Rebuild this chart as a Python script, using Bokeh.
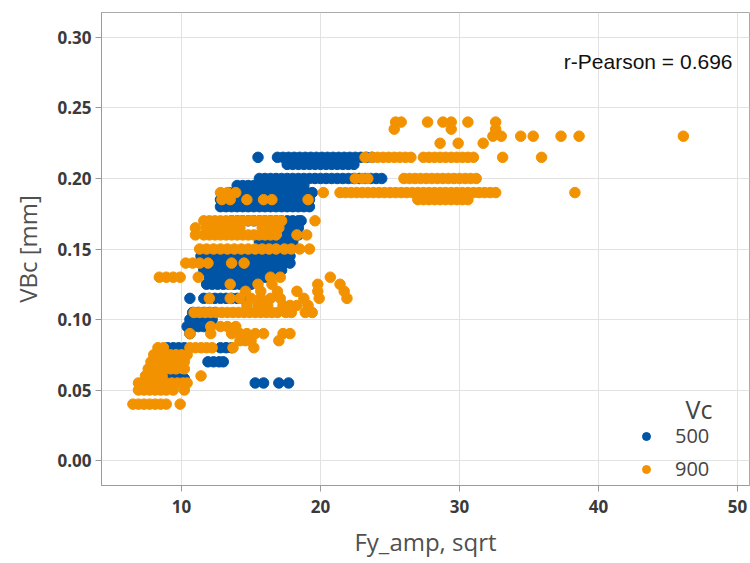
from bokeh.plotting import figure
from bokeh.models import Range1d, FixedTicker, NumeralTickFormatter, Label, Legend, LegendItem
from bokeh.embed import file_html
from bokeh.resources import INLINE

# ---- data: Vc = 500 (rows of points: VBc level, Fy_amp sqrt values) ----
vc500_rows = [
    (0.215, [15.5, 16.9, 17.3, 17.7, 18.1, 18.5, 18.9, 19.3, 19.7, 20.1, 20.5, 20.9, 21.3, 21.7, 22.1, 22.5, 22.9, 23.3, 23.7]),
    (0.21, [17.6, 18.0, 18.4, 18.8, 19.2, 19.6, 20.0, 20.4, 20.8, 21.2, 21.6, 22.0, 22.4]),
    (0.20, [15.6, 16.0, 16.4, 16.8, 17.2, 17.6, 18.0, 18.4, 18.8, 19.2, 19.6, 20.0, 20.4, 20.8, 21.2, 21.6, 22.0, 22.4, 22.8, 23.2, 23.6, 24.0, 24.4]),
    (0.195, [14.0, 14.4, 14.8, 15.2, 15.6, 16.0, 16.4, 16.8, 17.2, 17.6, 18.0, 18.4, 18.8]),
    (0.19, [13.4, 13.8, 14.2, 14.6, 15.0, 15.4, 15.8, 16.2, 16.6, 17.0, 17.4, 17.8, 18.2, 18.6, 19.0, 19.4]),
    (0.185, [12.8, 13.2, 13.6, 14.0, 14.4, 14.8, 15.2, 15.6, 16.0, 16.4, 16.8, 17.2, 17.6, 18.0, 18.4, 18.8, 19.2]),
    (0.18, [12.8, 13.2, 13.6, 14.0, 14.4, 14.8, 15.2, 15.6, 16.0, 16.4, 16.8, 17.2, 17.6, 18.0, 18.4, 18.8, 19.2]),
    (0.17, [13.6, 14.0, 14.4, 14.8, 15.2, 15.6, 16.0, 16.4, 16.8, 17.2, 17.6, 18.0, 18.4, 18.6]),
    (0.165, [17.2, 17.6, 18.0, 18.4]),
    (0.16, [17.6, 18.0, 18.4]),
    (0.155, [15.6, 16.0, 16.4, 16.8, 17.2, 17.6, 18.0]),
    (0.145, [11.4, 11.8, 12.2, 12.6, 13.0, 13.4, 13.8, 14.2, 14.6, 15.0, 15.4, 15.8, 16.2, 16.6, 17.0, 17.4, 17.8]),
    (0.14, [11.4, 11.8, 12.2, 12.6, 13.0, 13.4, 13.8, 14.2, 14.6, 15.0, 15.4, 15.8, 16.2, 16.6, 17.0, 17.4, 17.8]),
    (0.135, [11.6, 12.0, 12.4, 12.8, 13.2, 13.6, 14.0, 14.4, 14.8, 15.2, 15.6, 16.0, 16.4, 16.8, 17.2]),
    (0.13, [12.0, 12.4, 12.8, 13.2, 13.6, 14.0, 14.4, 14.8, 15.2, 15.6, 16.0]),
    (0.125, [11.8, 12.2, 12.6, 13.0, 13.4, 13.8, 14.2, 14.6, 15.0]),
    (0.115, [10.6, 11.6, 12.0, 12.4, 12.8, 13.2, 13.6, 14.0, 14.4]),
    (0.105, [10.8, 11.2, 11.6, 12.0, 12.4]),
    (0.10, [10.6, 11.0, 11.4, 11.8, 12.2]),
    (0.095, [10.4, 10.8, 11.2, 11.6]),
    (0.09, [10.6]),
    (0.08, [9.0, 9.4, 9.8, 10.2, 12.8, 13.2, 13.6]),
    (0.07, [11.9, 12.3, 12.7, 13.0]),
    (0.058, [9.0, 9.4, 9.8, 10.2]),
    (0.055, [15.3, 15.9, 17.0, 17.7]),
]

# ---- data: Vc = 900 ----
vc900_rows = [
    (0.24, [25.4, 25.8, 27.7, 28.8, 29.4, 30.6, 32.6]),
    (0.235, [25.3, 29.4, 32.6]),
    (0.23, [32.4, 33.0, 34.4, 35.3, 37.3, 38.6, 46.1]),
    (0.225, [28.6, 29.9, 31.7]),
    (0.215, [23.2, 23.7, 24.1, 24.5, 24.9, 25.3, 25.7, 26.1, 26.5, 27.4, 27.8, 28.2, 28.6, 29.0, 29.4, 29.8, 30.2, 30.6, 31.0, 33.1, 35.9]),
    (0.20, [22.5, 23.0, 23.4, 26.0, 26.4, 26.8, 27.2, 27.6, 28.0, 28.4, 28.8, 29.2, 29.6, 30.0, 30.4, 30.8, 31.2]),
    (0.19, [12.8, 13.3, 13.9, 20.2, 21.4, 21.8, 22.2, 22.6, 23.0, 23.4, 23.8, 24.2, 24.6, 25.0, 25.4, 25.8, 26.2, 26.6, 27.0, 27.4, 27.8, 28.2, 28.6, 29.0, 29.4, 29.8, 30.2, 30.6, 31.0, 31.4, 31.8, 32.2, 32.6, 38.3]),
    (0.185, [12.9, 13.5, 14.7, 15.9, 16.5, 19.1, 27.0, 27.4, 27.8, 28.2, 28.6, 29.0, 29.4, 29.8, 30.2, 30.6]),
    (0.17, [11.6, 12.0, 12.4, 12.8, 13.2, 13.6, 14.0, 14.4, 14.8, 15.2, 15.6, 16.0, 16.4, 16.8, 17.2, 19.6]),
    (0.165, [11.0, 11.8, 12.2, 12.6, 13.0, 13.4, 13.8, 14.2, 15.8, 16.2, 16.6, 17.0]),
    (0.16, [11.0, 11.6, 12.0, 12.4, 12.8, 13.2, 13.6, 14.0, 14.4, 14.8, 15.2, 15.6, 16.0, 16.4, 16.8, 18.3, 19.0]),
    (0.15, [11.3, 11.8, 12.3, 12.8, 13.3, 13.8, 14.3, 14.8, 15.3, 15.8, 16.3, 16.8, 17.4, 17.9, 18.5, 19.2]),
    (0.14, [10.3, 10.8, 11.3, 11.9, 13.6, 14.5]),
    (0.13, [8.4, 8.9, 9.4, 9.9, 11.2, 16.4, 17.1, 20.7]),
    (0.125, [13.5, 15.5, 16.5, 19.8, 21.4]),
    (0.12, [14.6, 15.7, 16.9, 18.3, 19.8, 21.7]),
    (0.115, [12.0, 13.5, 14.2, 15.0, 15.7, 16.4, 17.1, 18.8, 19.9, 21.9]),
    (0.11, [14.7, 15.5, 16.2, 17.3, 17.8, 18.3, 19.1]),
    (0.105, [10.9, 11.3, 11.7, 12.1, 12.5, 12.9, 13.3, 13.7, 14.1, 14.5, 14.9, 15.3, 15.7, 16.1, 16.5, 16.9, 17.5, 17.9, 18.9, 19.4]),
    (0.095, [12.1, 12.8, 13.3, 13.9]),
    (0.09, [10.6, 12.1, 13.6, 14.2, 14.7, 15.3, 15.9, 17.3, 17.8]),
    (0.085, [14.2, 14.6, 15.0, 17.0]),
    (0.08, [8.3, 8.7, 10.6, 11.0, 11.4, 11.8, 12.2, 13.7, 15.2]),
    (0.075, [8.0, 8.4, 8.8, 9.2, 9.6, 10.0, 10.4]),
    (0.07, [7.8, 8.2, 8.6, 9.0, 9.4, 9.8, 10.2]),
    (0.065, [7.6, 8.0, 8.4, 8.8, 9.2, 9.6, 10.2]),
    (0.06, [7.4, 7.8, 8.2, 8.6, 11.4]),
    (0.055, [6.9, 7.3, 7.7, 8.1, 8.5, 8.9, 9.3, 9.7, 10.1, 10.4]),
    (0.05, [6.9, 7.3, 7.7, 8.1, 8.5, 8.9, 9.4, 10.2]),
    (0.04, [6.5, 6.9, 7.3, 7.7, 8.1, 8.5, 8.9, 9.9]),
]

x_ticks = [10, 20, 30, 40, 50]
y_ticks = [0.00, 0.05, 0.10, 0.15, 0.20, 0.25, 0.30]
series_labels = ["500", "900"]
series_colors = ["#0054A6", "#F39200"]
pearson_text = "r-Pearson = 0.696"


def flatten(rows):
    xs, ys = [], []
    for yv, xlist in rows:
        for xv in xlist:
            xs.append(xv)
            ys.append(yv)
    return xs, ys


x500, y500 = flatten(vc500_rows)
x900, y900 = flatten(vc900_rows)

p = figure(width=750, height=563, output_backend="svg", toolbar_location=None,
           x_range=Range1d(4.24, 50.86), y_range=Range1d(-0.0177, 0.3177),
           min_border_left=101, min_border_right=1, min_border_top=12, min_border_bottom=78)

r500 = p.scatter(x500, y500, size=10.5, fill_color=series_colors[0], line_color=series_colors[0])
r900 = p.scatter(x900, y900, size=10.5, fill_color=series_colors[1], line_color=series_colors[1])

p.xaxis.ticker = FixedTicker(ticks=x_ticks)
p.yaxis.ticker = FixedTicker(ticks=y_ticks)
p.yaxis.formatter = NumeralTickFormatter(format="0.00")

for ax in (p.xaxis[0], p.yaxis[0]):
    ax.axis_line_color = "#9a9a9a"
    ax.major_tick_line_color = "#9a9a9a"
    ax.major_tick_out = 6
    ax.major_tick_in = 0
    ax.minor_tick_line_color = None
    ax.major_label_text_font = "Open Sans"
    ax.major_label_text_font_size = "17px"
    ax.major_label_text_font_style = "bold"
    ax.major_label_text_color = "#3a3a3a"
    ax.axis_label_text_font = "Open Sans"
    ax.axis_label_text_font_size = "24px"
    ax.axis_label_text_font_style = "normal"
    ax.axis_label_text_color = "#505050"

p.xaxis.axis_label = "Fy_amp, sqrt"
p.yaxis.axis_label = "VBc [mm]"
p.xaxis.major_label_standoff = 8
p.yaxis.major_label_standoff = 4
p.xaxis.axis_label_standoff = 9
p.yaxis.axis_label_standoff = 10

p.xgrid.grid_line_color = "#e2e2e2"
p.ygrid.grid_line_color = "#e2e2e2"
p.outline_line_color = "#aaaaaa"
p.background_fill_color = "white"
p.border_fill_color = "white"

legend = Legend(items=[LegendItem(label=series_labels[0], renderers=[r500]),
                       LegendItem(label=series_labels[1], renderers=[r900])],
                location=(535, 3), padding=0, margin=0, spacing=6,
                glyph_width=20, glyph_height=24, label_height=24, label_standoff=19,
                label_text_font="Open Sans", label_text_font_size="20px",
                label_text_color="#444444", background_fill_alpha=0,
                border_line_color=None)
p.add_layout(legend)

p.add_layout(Label(x=611, y=77, x_units="screen", y_units="screen", text="Vc",
                   text_font="Open Sans", text_font_size="25px", text_color="#444444",
                   text_align="right", text_baseline="middle"))

p.add_layout(Label(x=631, y=424, x_units="screen", y_units="screen", text=pearson_text,
                   text_font="Liberation Sans", text_font_size="21px", text_color="#111111",
                   text_align="right", text_baseline="middle"))

open("out.html", "w").write(file_html(p, INLINE))
